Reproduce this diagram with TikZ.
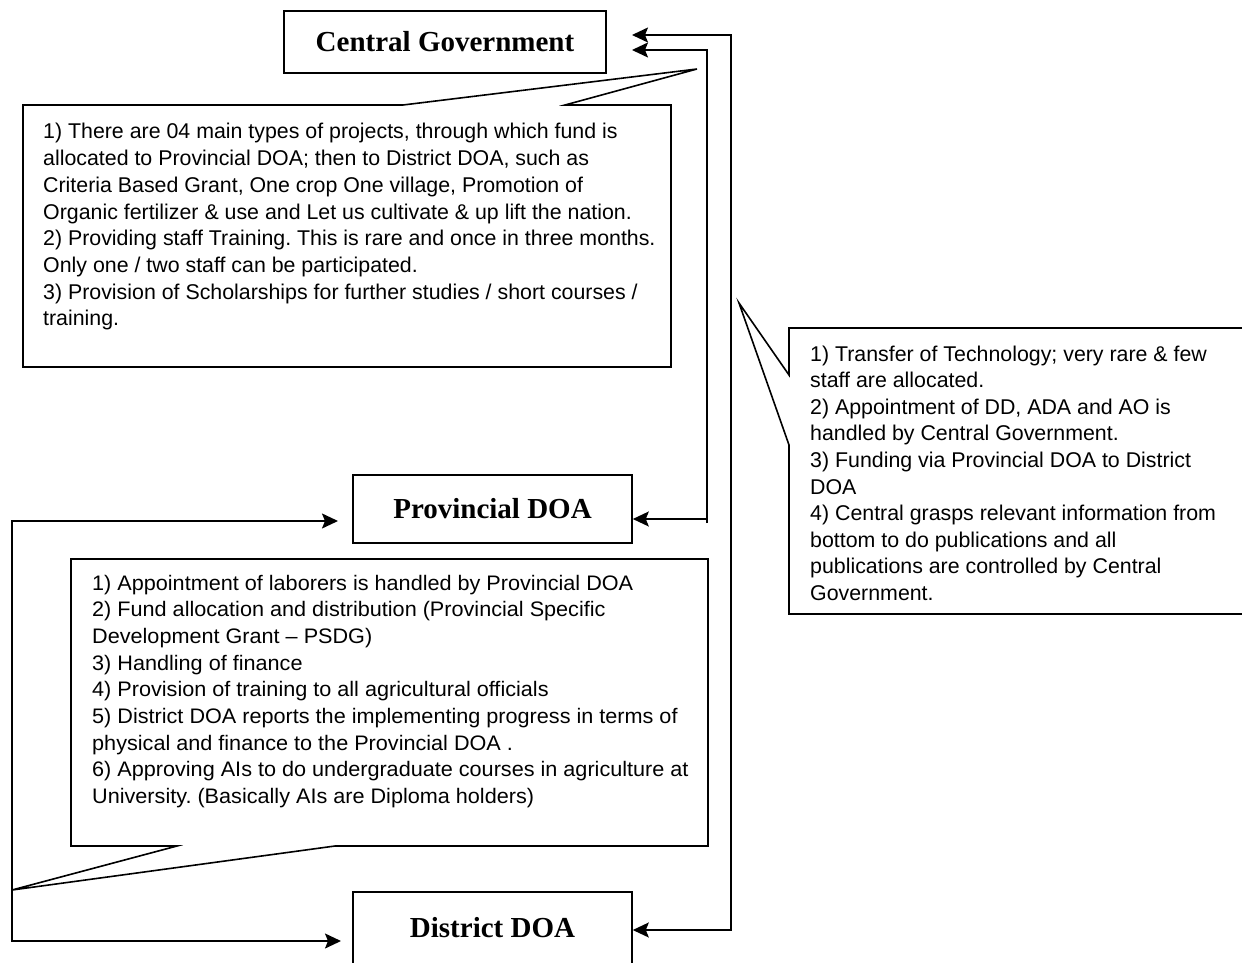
\documentclass[tikz,border=0pt]{standalone}
\usepackage{fontspec}
\setmainfont{Liberation Serif}
\newfontfamily\bodyfont{Liberation Sans}
\newfontfamily\midfont[FakeStretch=1.03]{Liberation Sans}
\usetikzlibrary{arrows.meta}
\frenchspacing
\tikzset{tipshape/.tip={Stealth[length=16pt,width=15pt,inset=3pt]}}

\begin{document}
\begin{tikzpicture}[x=1pt,y=-1pt,
  orgbox/.style={draw, line width=1.6pt, rectangle, inner sep=0pt,
    font=\fontsize{29}{34}\selectfont\bfseries},
  bubble/.style={draw, line width=1.6pt, line join=miter},
  calltext/.style={anchor=base west, inner sep=0pt},
  linkarrow/.style={line width=1.6pt, {tipshape}-{tipshape}}
]
\useasboundingbox (0,0) rectangle (1242,963);
\clip (0,0) rectangle (1242,963);

% the three levels of administration
\node[orgbox, minimum width=322pt, minimum height=62pt] (cg) at (445,42) {Central Government};
\node[orgbox, minimum width=279pt, minimum height=68pt] (pdoa) at (492.5,509) {Provincial DOA};
\node[orgbox, minimum width=279pt, minimum height=72pt] (ddoa) at (492.5,928) {District DOA};

% speech bubble: role of the central government
\draw[bubble] (23,105) -- (403,105) -- (697,69) -- (565,105) -- (671,105)
  -- (671,367) -- (23,367) -- cycle;
\node[calltext] (cgtext) at (43,139) {\parbox[t]{640pt}{\bodyfont\fontsize{21.35}{26.7}\selectfont\raggedright
1) There are 04 main types of projects, through which fund is\\
allocated to Provincial DOA; then to District DOA, such as\\
Criteria Based Grant, One crop One village, Promotion of\\
Organic fertilizer \& use and Let us cultivate \& up lift the nation.\\
2) Providing staff Training. This is rare and once in three months.\\
Only one / two staff can be participated.\\
3) Provision of Scholarships for further studies / short courses /\\
training.}};

% speech bubble: links between central government and the districts
\draw[bubble] (789,328) -- (1260,328) -- (1260,614) -- (789,614) -- (789,445)
  -- (739,303) -- (789,375) -- cycle;
\node[calltext] (linktext) at (810,361) {\parbox[t]{440pt}{\bodyfont\fontsize{21.35}{26.6}\selectfont\raggedright
1) Transfer of Technology; very rare \& few\\
staff are allocated.\\
2) Appointment of DD, ADA and AO is\\
handled by Central Government.\\
3) Funding via Provincial DOA to District\\
DOA\\
4) Central grasps relevant information from\\
bottom to do publications and all\\
publications are controlled by Central\\
Government.}};

% speech bubble: role of the provincial DOA
\draw[bubble] (71,559) -- (708,559) -- (708,846) -- (335,846) -- (12,890)
  -- (177,846) -- (71,846) -- cycle;
\node[calltext] (pdoatext) at (92,590) {\parbox[t]{620pt}{\midfont\fontsize{21}{26.7}\selectfont\raggedright
1) Appointment of laborers is handled by Provincial DOA\\
2) Fund allocation and distribution (Provincial Specific\\
Development Grant – PSDG)\\
3) Handling of finance\\
4) Provision of training to all agricultural officials\\
5) District DOA reports the implementing progress in terms of\\
physical and finance to the Provincial DOA .\\
6) Approving AIs to do undergraduate courses in agriculture at\\
University. (Basically AIs are Diploma holders)}};

% connectors
\coordinate (cgin1) at (632,35);
\coordinate (cgin2) at (632,50);
\coordinate (pin) at (338,521);
\coordinate (din) at (341,941);
\coordinate (pstub) at (707,523);
\draw[linkarrow] (ddoa.east |- 0,930) -| (731,35) -- (cgin1);
\draw[linkarrow] (pdoa.east |- 0,519) -| (707,50) -- (cgin2);
\draw[line width=1.6pt] (pstub) -- (pstub |- pdoa.east);
\draw[linkarrow] (pin) -| (12,941) -- (din);
\end{tikzpicture}
\end{document}
